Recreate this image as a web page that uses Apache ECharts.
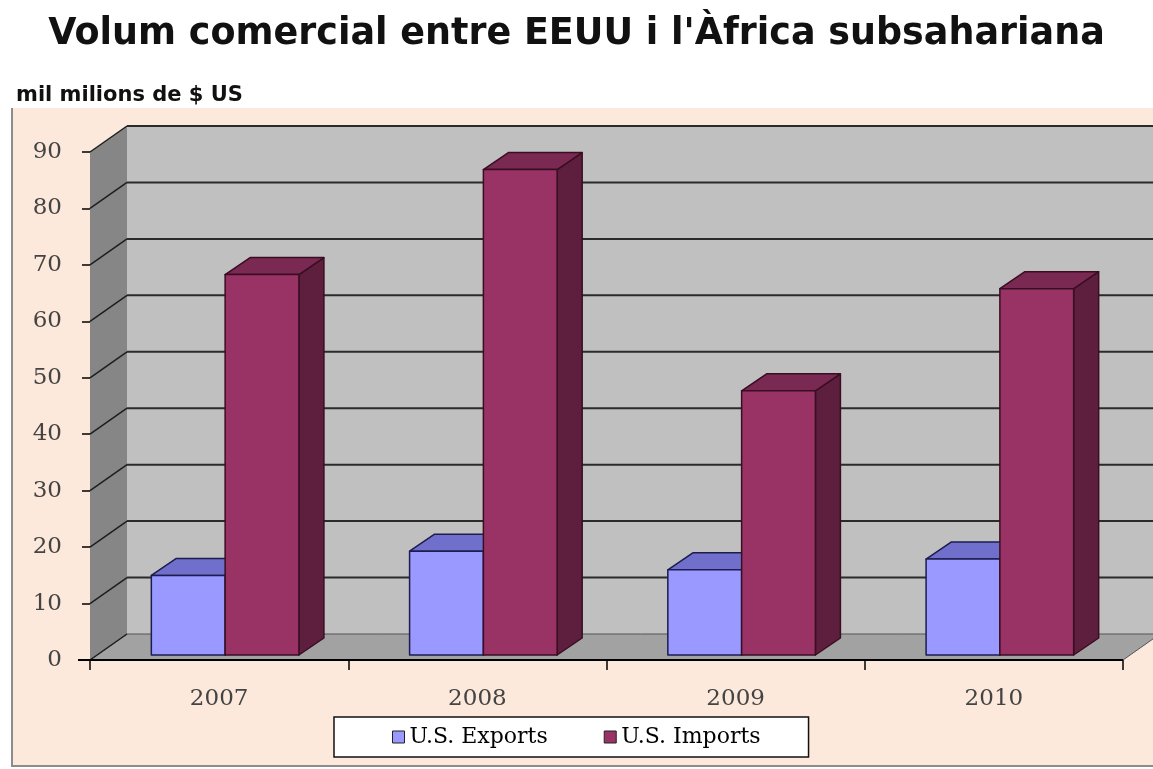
<!DOCTYPE html>
<html>
<head>
<meta charset="utf-8">
<script src="https://cdn.jsdelivr.net/npm/echarts@6/dist/echarts.min.js"></script>
<style>
  html, body { margin: 0; padding: 0; background: #fff; }
  #chart { width: 1153px; height: 769px; }
</style>
</head>
<body>
<div id="chart"></div>
<script>
const years = ['2007', '2008', '2009', '2010'];
const usExports = [14.1, 18.4, 15.1, 17.0];
const usImports = [67.4, 86.0, 46.8, 64.9];
const yTicks = [0, 10, 20, 30, 40, 50, 60, 70, 80, 90];
const seriesNames = ['U.S. Exports', 'U.S. Imports'];

// offsets of the fake 3D box: back wall, bar plane, bar depth
const DEPTH = [37, -26];
const BAR_SHIFT = [6, -5];
const BAR_DEPTH = [25, -17];

const faceColors = {
  'U.S. Exports': { front: '#9999ff', top: '#7070cc', side: '#5a5a99', line: '#1c1c50' },
  'U.S. Imports': { front: '#993366', top: '#7a2952', side: '#5e1f3f', line: '#3a0e22' }
};

const serifFont = '"DejaVu Serif", "Liberation Serif", serif';
const sansFont = '"DejaVu Sans", sans-serif';

const chart = echarts.init(document.getElementById('chart'));

// walls, floor and gridlines
function renderBox(params, api) {
  const cs = params.coordSys;
  const left = cs.x;
  const right = cs.x + cs.width;
  const y0 = api.coord([0, 0])[1];
  const yTop = api.coord([0, yTicks[yTicks.length - 1]])[1];
  const [dx, dy] = DEPTH;
  const children = [
    { type: 'rect', shape: { x: left + dx, y: yTop + dy, width: cs.width, height: y0 - yTop },
      style: { fill: '#c0c0c0' } },
    { type: 'polygon', shape: { points: [[left, yTop], [left + dx, yTop + dy], [left + dx, y0 + dy], [left, y0]] },
      style: { fill: '#868686' } },
    { type: 'polygon', shape: { points: [[left, y0], [left + dx, y0 + dy], [right + dx, y0 + dy], [right, y0]] },
      style: { fill: '#a2a2a2', stroke: '#555', lineWidth: 1 } }
  ];
  yTicks.forEach(function (v) {
    const y = api.coord([0, v])[1];
    children.push({ type: 'line', shape: { x1: left, y1: y, x2: left + dx, y2: y + dy },
      style: { stroke: '#1e1e1e', lineWidth: 1.5 } });
    if (v > 0) {
      children.push({ type: 'line', shape: { x1: left + dx, y1: y + dy, x2: right + dx, y2: y + dy },
        style: { stroke: '#2b2b2b', lineWidth: 2 } });
    }
  });
  children.push({ type: 'line', shape: { x1: left - 12, y1: y0, x2: right, y2: y0 },
    style: { stroke: '#000', lineWidth: 2 } });
  return { type: 'group', children: children };
}

function barRenderer(name, slot) {
  const col = faceColors[name];
  return function (params, api) {
    const c = api.value(0);
    const v = api.value(1);
    const base = api.coord([c, 0]);
    const top = api.coord([c, v]);
    const bw = api.size([1, 0])[0] / 3.5;
    const x = base[0] - bw + slot * bw + BAR_SHIFT[0];
    const yb = base[1] + BAR_SHIFT[1];
    const yt = top[1] + BAR_SHIFT[1];
    const dx = BAR_DEPTH[0], dy = BAR_DEPTH[1];
    const edge = { stroke: col.line, lineWidth: 1.5, lineJoin: 'round' };
    return {
      type: 'group',
      children: [
        { type: 'polygon',
          shape: { points: [[x + bw, yt], [x + bw + dx, yt + dy], [x + bw + dx, yb + dy], [x + bw, yb]] },
          style: Object.assign({ fill: col.side }, edge) },
        { type: 'polygon',
          shape: { points: [[x, yt], [x + bw, yt], [x + bw + dx, yt + dy], [x + dx, yt + dy]] },
          style: Object.assign({ fill: col.top }, edge) },
        { type: 'rect', shape: { x: x, y: yt, width: bw, height: yb - yt },
          style: Object.assign({ fill: col.front }, edge) }
      ]
    };
  };
}

const option = {
  backgroundColor: '#fff',
  animation: false,
  title: [
    {
      text: "Volum comercial entre EEUU i l'Àfrica subsahariana",
      left: 'center',
      top: 11,
      textStyle: { fontFamily: sansFont, fontWeight: 'bold', fontSize: 36.5, color: '#111' }
    },
    {
      text: 'mil milions de $ US',
      left: 11,
      top: 80,
      textStyle: { fontFamily: sansFont, fontWeight: 'bold', fontSize: 21, color: '#111' }
    }
  ],
  graphic: [
    { type: 'rect', z: -10, shape: { x: 12, y: 108, width: 1160, height: 658 },
      style: { fill: '#fce9db' } },
    { type: 'polyline', z: -9, shape: { points: [[12, 108], [12, 766], [1160, 766]] },
      style: { stroke: '#8c8c8c', lineWidth: 2, fill: null } }
  ],
  legend: {
    data: seriesNames,
    left: 334,
    top: 717,
    orient: 'horizontal',
    icon: 'rect',
    itemWidth: 12,
    itemHeight: 12,
    itemGap: 56,
    padding: [9, 48, 9, 58],
    backgroundColor: '#fff',
    borderColor: '#111',
    borderWidth: 1.5,
    borderRadius: 0,
    itemStyle: { borderColor: '#222', borderWidth: 1 },
    textStyle: { fontFamily: serifFont, fontSize: 22, color: '#000' }
  },
  grid: { left: 90, right: 30, top: 152, bottom: 109, containLabel: false },
  xAxis: {
    type: 'category',
    data: years,
    z: 5,
    axisLine: { show: false },
    axisTick: { show: true, length: 10, lineStyle: { color: '#000', width: 1.5 } },
    axisLabel: { margin: 28, fontFamily: serifFont, fontSize: 23, color: '#444' },
    splitLine: { show: false }
  },
  yAxis: {
    type: 'value',
    min: 0,
    max: 90,
    interval: 10,
    z: 5,
    axisLine: { show: false },
    axisTick: { show: true, length: 8, lineStyle: { color: '#000', width: 1.5 } },
    axisLabel: { margin: 28, fontFamily: serifFont, fontSize: 23, color: '#444' },
    splitLine: { show: false }
  },
  series: [
    {
      name: 'box',
      type: 'custom',
      z: 1,
      silent: true,
      renderItem: renderBox,
      data: [[0, 0]]
    },
    {
      name: seriesNames[0],
      type: 'custom',
      z: 3,
      itemStyle: { color: faceColors[seriesNames[0]].front },
      renderItem: barRenderer(seriesNames[0], 0),
      data: years.map(function (y, i) { return [i, usExports[i]]; })
    },
    {
      name: seriesNames[1],
      type: 'custom',
      z: 4,
      itemStyle: { color: faceColors[seriesNames[1]].front },
      renderItem: barRenderer(seriesNames[1], 1),
      data: years.map(function (y, i) { return [i, usImports[i]]; })
    }
  ]
};

chart.setOption(option);
</script>
</body>
</html>
